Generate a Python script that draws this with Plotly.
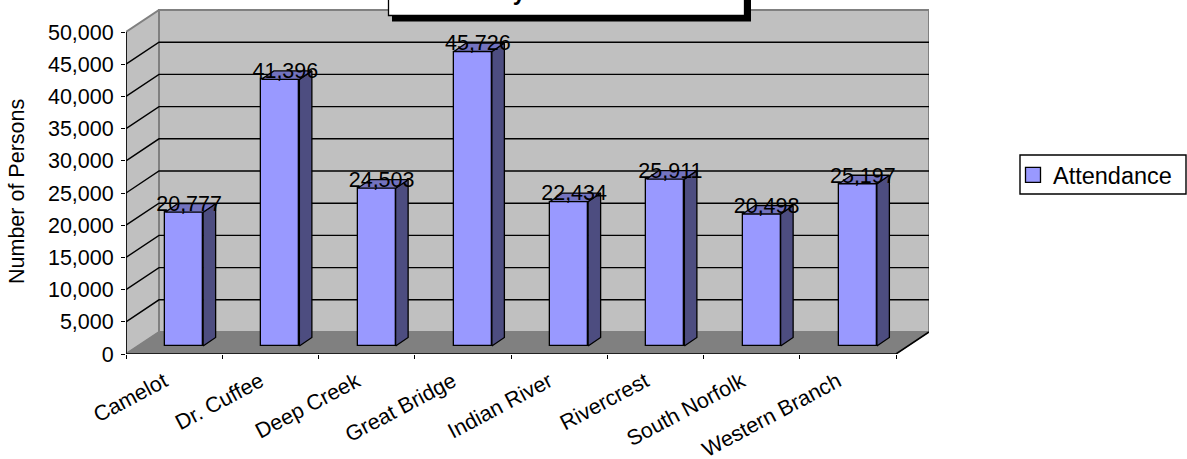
import plotly.graph_objects as go

categories = ["Camelot", "Dr. Cuffee", "Deep Creek", "Great Bridge", "Indian River",
              "Rivercrest", "South Norfolk", "Western Branch"]
attendance = [20777, 41396, 24503, 45726, 22434, 25911, 20498, 25197]
y_ticks = list(range(0, 50001, 5000))
series_name = "Attendance"
title_text = "Community Center Attendance"
y_title = "Number of Persons"

W, H = 1187, 459
L, R, T, B = 126, 929, 9, 354      # plot box in pixels
cat_px = 96.25
val_px = 322 / 50000
depth_x, depth_y = 33, 22

def ux(px): return px / cat_px
def uy(px): return px / val_px
xmin = -0.5
xfront = 7.5
xmax = xmin + ux(R - L)
ymax = uy(B - T)
FONT = "Liberation Sans, Arial, sans-serif"

def px_x(p): return (p - L) / (W - L)
def px_y(p): return (B - p) / (B - T)

fig = go.Figure()
shapes = []
def poly(pts, fill, line, width=1.3, layer="below"):
    d = "M" + "L".join(f"{a},{b}" for a, b in pts) + "Z"
    shapes.append(dict(type="path", path=d, xref="x", yref="y", fillcolor=fill,
                       line=dict(color=line, width=width), layer=layer))

dx, dy = ux(depth_x), uy(depth_y)
top = max(y_ticks)
poly([(xmin + dx, dy), (xmax, dy), (xmax, top + dy), (xmin + dx, top + dy)], "#c0c0c0", "#808080", 2)
poly([(xmin, 0), (xmin + dx, dy), (xmin + dx, top + dy), (xmin, top)], "#c0c0c0", "#808080", 2)
poly([(xmin, 0), (xfront, 0), (xmax, dy), (xmin + dx, dy)], "#808080", "#808080", 1)

# gridlines on side wall and back wall, under the bars
for v in y_ticks[1:-1]:
    d = f"M{xmin},{v}L{xmin + dx},{v + dy}L{xmax},{v + dy}"
    shapes.append(dict(type="path", path=d, xref="x", yref="y",
                       line=dict(color="black", width=1.4), layer="below"))
fig.update_layout(shapes=shapes)

# front face of bars
bar_off = ux(10.0)
bar_w = ux(38)
base = uy(8)
xs = [i + bar_off for i in range(len(categories))]
fig.add_trace(go.Bar(x=xs, y=attendance, base=[base] * len(xs), width=bar_w, name=series_name,
                     marker=dict(color="#9999ff", line=dict(color="black", width=1.3)),
                     showlegend=False))

# side and top faces
bdx, bdy = ux(12.5), uy(8.5)
for x, v in zip(xs, attendance):
    xr = x + bar_w / 2
    xl = x - bar_w / 2
    t = base + v
    fig.add_trace(go.Scatter(x=[xr, xr + bdx, xr + bdx, xr, xr], y=[base, base + bdy, t + bdy, t, base],
                             mode="lines", fill="toself", fillcolor="#4d4d80",
                             line=dict(color="black", width=1.3), hoverinfo="skip", showlegend=False))
    fig.add_trace(go.Scatter(x=[xl, xl + bdx, xr + bdx, xr, xl], y=[t, t + bdy, t + bdy, t, t],
                             mode="lines", fill="toself", fillcolor="#7373bf",
                             line=dict(color="black", width=1.3), hoverinfo="skip", showlegend=False))

# front axis lines
fig.add_trace(go.Scatter(x=[xmin, xmin], y=[0, top], mode="lines", cliponaxis=False,
                         line=dict(color="black", width=1.6), hoverinfo="skip", showlegend=False))
fig.add_trace(go.Scatter(x=[xmin, xfront, xmax], y=[0, 0, dy], mode="lines", cliponaxis=False,
                         line=dict(color="black", width=1.6), hoverinfo="skip", showlegend=False))

# value labels
fig.add_trace(go.Scatter(x=[x + ux(5) for x in xs], y=[v + base + uy(6.5) for v in attendance],
                         mode="text", text=[f"{v:,}" for v in attendance], cliponaxis=False,
                         textfont=dict(family=FONT, size=21.5, color="black"),
                         hoverinfo="skip", showlegend=False))

# legend key
fig.add_trace(go.Scatter(x=[None], y=[None], mode="markers", name=series_name,
                         marker=dict(symbol="square", size=15, color="#9999ff",
                                     line=dict(color="black", width=1.3))))

annotations = [
    dict(text="<b>" + title_text + "</b>", xref="paper", yref="paper", x=px_x(567), y=px_y(-8), showarrow=False,
         xanchor="center", yanchor="middle", font=dict(family=FONT, size=23, color="black")),
    dict(text=y_title, xref="paper", yref="paper", x=px_x(17), y=px_y(191), showarrow=False,
         textangle=-90, xanchor="center", yanchor="middle",
         font=dict(family=FONT, size=21.5, color="black")),
]
fig.update_layout(annotations=annotations)

fig.add_shape(type="rect", xref="paper", yref="paper", x0=px_x(392), x1=px_x(751), y0=px_y(-20), y1=px_y(21.5),
              fillcolor="black", line=dict(width=0), layer="above")
fig.add_shape(type="rect", xref="paper", yref="paper", x0=px_x(388.5), x1=px_x(744.5), y0=px_y(-20), y1=px_y(15.5),
              fillcolor="white", line=dict(color="black", width=1.3), layer="above")
fig.add_shape(type="rect", xref="paper", yref="paper", x0=px_x(1020), x1=px_x(1186), y0=px_y(194), y1=px_y(155),
              fillcolor="white", line=dict(color="black", width=1.4), layer="below")

fig.update_layout(
    width=W, height=H, autosize=False, bargap=0, plot_bgcolor="rgba(0,0,0,0)", paper_bgcolor="white",
    margin=dict(l=L, r=0, t=T, b=H - B, pad=0, autoexpand=False),
    xaxis=dict(domain=[0, (R - L) / (W - L)], range=[xmin, xmax], tickmode="array", automargin=False,
               tickvals=list(range(len(categories))),
               ticktext=categories, tickangle=-28, ticks="", showgrid=False, zeroline=False,
               ticklabelstandoff=10, ticklabelshift=-10,
               tickfont=dict(family=FONT, size=21.5, color="black"), showline=False,
               minor=dict(tickmode="array", tickvals=[i - 0.5 for i in range(len(categories) + 1)],
                          ticks="outside", ticklen=4, tickwidth=1.3, tickcolor="black", showgrid=False)),
    yaxis=dict(range=[0, ymax], tickmode="array", tickvals=y_ticks, tickformat=",", ticks="outside", automargin=False,
               ticklen=4, tickwidth=1.3, tickcolor="black", showgrid=False, zeroline=False, showline=False,
               ticklabelstandoff=3, tickfont=dict(family=FONT, size=21.5, color="black")),
    legend=dict(x=px_x(1013), y=px_y(153), xanchor="left", yanchor="top", bgcolor="rgba(0,0,0,0)",
                borderwidth=0, itemwidth=30, font=dict(family=FONT, size=23.5, color="black")),
    showlegend=True,
)
fig.write_html("out.html", config=dict(displayModeBar=False),
               post_script="document.body.style.margin='0';document.body.style.overflow='hidden';")
